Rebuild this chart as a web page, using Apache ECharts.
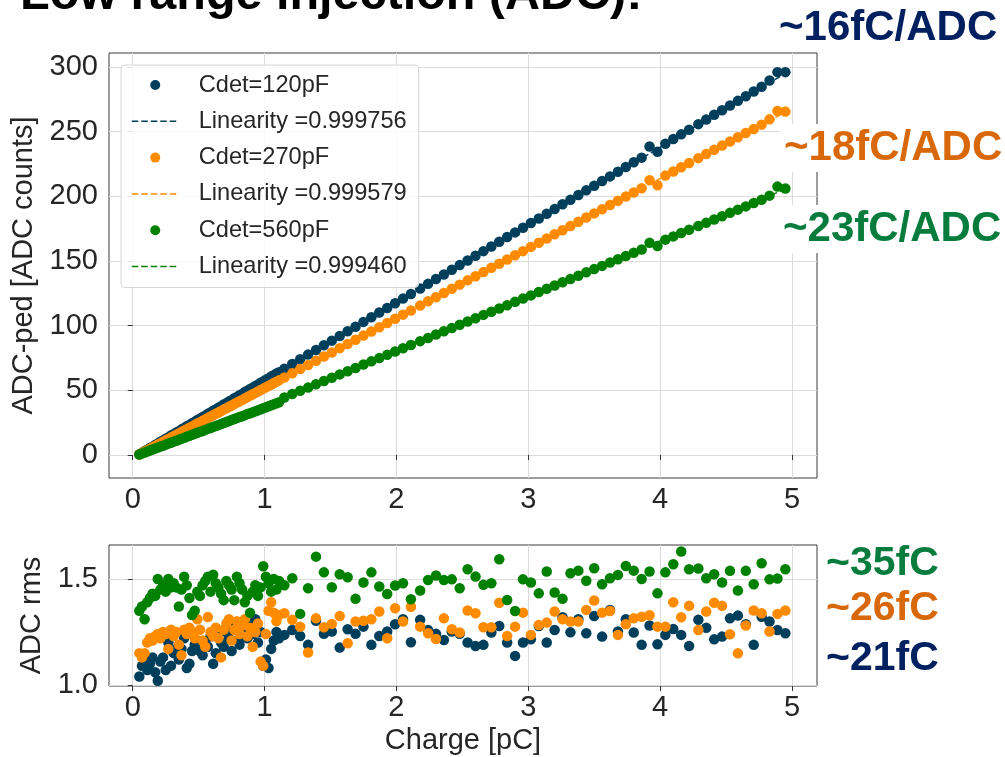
<!DOCTYPE html>
<html><head><meta charset="utf-8">
<script src="https://cdn.jsdelivr.net/npm/echarts@6/dist/echarts.min.js"></script>
<style>html,body{margin:0;padding:0;background:#fff}#c{width:1005px;height:757px}</style>
</head><body><div id="c"></div>
<script>
// Injected charge [pC] (shared by all series)
const charge = [0.05,0.07,0.09,0.11,0.13,0.15,0.17,0.19,0.21,0.23,0.25,0.27,0.29,0.31,0.33,0.35,0.37,0.39,0.41,0.43,0.45,0.47,0.49,0.51,0.53,0.55,0.57,0.59,0.61,0.63,0.65,0.67,0.69,0.71,0.73,0.75,0.77,0.79,0.81,0.83,0.85,0.87,0.89,0.91,0.93,0.95,0.97,0.99,1.01,1.03,1.05,1.07,1.09,1.11,
1.15,1.21,1.27,1.33,1.39,1.45,1.51,1.57,1.63,1.69,1.75,1.81,1.87,1.93,1.99,2.05,2.11,2.18,2.24,2.30,2.36,2.42,2.48,2.54,2.60,2.66,2.72,2.78,2.84,2.90,2.96,3.02,3.08,3.14,3.20,3.26,3.32,3.38,3.44,3.50,3.56,3.62,3.68,3.74,3.80,3.86,3.92,3.98,4.04,4.10,4.16,4.22,4.29,4.35,4.41,4.47,4.53,4.59,4.65,4.71,4.77,4.83,4.89,4.95];

// ADC-ped [ADC counts]
const adc120 = [0.6,1.6,3.0,4.0,5.4,6.4,7.8,8.8,10.2,11.2,12.6,13.6,15.0,16.0,17.4,18.4,19.8,20.8,22.2,23.2,24.6,25.6,27.0,28.0,29.4,30.4,31.8,32.8,34.2,35.2,36.6,37.6,39.0,40.0,41.4,42.4,43.8,44.8,46.2,47.2,48.6,49.6,51.0,52.0,53.4,54.4,55.8,56.8,58.2,59.2,60.6,61.6,63.0,64.0,
66.7,70.3,74.0,77.6,81.2,84.8,88.4,92.0,95.6,99.2,102.9,106.5,110.1,113.7,117.3,120.9,124.5,128.7,132.3,136.0,139.6,143.2,146.8,150.4,154.0,157.6,161.2,164.9,168.5,172.1,175.7,179.3,182.9,186.5,190.1,193.8,197.4,201.0,204.6,208.2,211.8,215.4,219.0,222.6,226.3,229.9,238.5,234.5,240.7,244.3,247.9,251.5,255.8,259.4,263.0,266.6,270.2,273.8,277.4,281.0,284.7,289.5,296.0,296.0];
const adc270 = [0.5,1.6,2.7,3.7,4.8,5.9,7.0,8.1,9.1,10.2,11.3,12.4,13.5,14.5,15.6,16.7,17.8,18.9,19.9,21.0,22.1,23.2,24.3,25.3,26.4,27.5,28.6,29.7,30.7,31.8,32.9,34.0,35.1,36.1,37.2,38.3,39.4,40.5,41.5,42.6,43.7,44.8,45.9,46.9,48.0,49.1,50.2,51.3,52.3,53.4,54.5,55.6,56.7,57.7,
59.9,63.1,66.4,69.6,72.9,76.1,79.3,82.6,85.8,89.1,92.3,95.5,98.8,102.0,105.3,108.5,111.7,115.5,118.8,122.0,125.2,128.5,131.7,135.0,138.2,141.4,144.7,147.9,151.2,154.4,157.6,160.9,164.1,167.4,170.6,173.8,177.1,180.3,183.6,186.8,190.0,193.3,196.5,199.8,203.0,206.2,212.5,208.5,216.0,219.2,222.4,225.7,229.5,232.7,235.9,239.2,242.4,245.7,248.9,252.1,255.4,259.5,266.0,265.5];
const adc560 = [0.4,1.2,1.9,2.7,3.4,4.2,5.0,5.7,6.5,7.2,8.0,8.8,9.5,10.3,11.0,11.8,12.6,13.3,14.1,14.8,15.6,16.4,17.1,17.9,18.6,19.4,20.2,20.9,21.7,22.4,23.2,24.0,24.7,25.5,26.2,27.0,27.8,28.5,29.3,30.0,30.8,31.6,32.3,33.1,33.8,34.6,35.4,36.1,36.9,37.6,38.4,39.2,39.9,40.7,
44.5,47.1,49.6,52.1,54.7,57.2,59.7,62.3,64.8,67.3,69.9,72.4,74.9,77.4,80.0,82.5,85.0,88.0,90.5,93.1,95.6,98.1,100.7,103.2,105.7,108.3,110.8,113.3,115.8,118.4,120.9,123.4,126.0,128.5,131.0,133.6,136.1,138.6,141.2,143.7,146.2,148.8,151.3,153.8,156.4,158.9,164.0,161.5,166.5,169.0,171.6,174.1,177.0,179.6,182.1,184.6,187.2,189.7,192.2,194.8,197.3,200.5,207.5,206.0];

// Linear fit end points
const fitX = [0.05, 4.95];
const fit120 = [0.2, 295.0];
const fit270 = [0.3, 265.0];
const fit560 = [-0.9, 205.5];

// ADC rms
const rms120 = [1.04,1.09,1.12,1.07,1.10,1.13,1.06,1.02,1.11,1.13,1.07,1.20,1.09,1.15,1.17,1.12,1.17,1.22,1.08,1.10,1.16,1.19,1.21,1.16,1.14,1.20,1.18,1.23,1.10,1.15,1.24,1.20,1.18,1.25,1.22,1.16,1.27,1.21,1.19,1.23,1.26,1.22,1.28,1.24,1.31,1.20,1.25,1.09,1.12,1.08,1.17,1.21,1.25,1.22,
1.236,1.259,1.231,1.189,1.303,1.241,1.252,1.176,1.263,1.241,1.275,1.189,1.231,1.252,1.286,1.310,1.201,1.307,1.259,1.241,
1.212,1.252,1.241,1.200,1.184,1.189,1.247,1.278,1.200,1.137,1.200,1.215,1.278,1.200,1.259,1.319,1.248,1.310,1.244,1.325,1.228,1.354,1.252,1.310,1.247,1.189,1.280,1.192,1.236,1.264,1.236,1.184,1.307,1.270,1.215,1.228,1.314,1.327,1.286,1.189,1.322,1.299,1.259,1.244];
const rms270 = [1.15,1.13,1.15,1.20,1.22,1.21,1.23,1.24,1.22,1.25,1.24,1.17,1.26,1.23,1.25,1.19,1.14,1.26,1.24,1.27,1.25,1.22,1.31,1.26,1.21,1.18,1.32,1.25,1.23,1.27,1.22,1.13,1.26,1.29,1.31,1.21,1.26,1.30,1.24,1.28,1.31,1.23,1.27,1.18,1.25,1.29,1.11,1.09,1.24,1.35,1.39,1.34,1.30,1.33,
1.338,1.307,1.275,1.153,1.314,1.272,1.288,1.325,1.197,1.299,1.303,1.310,1.346,1.220,1.362,1.299,1.369,1.275,1.244,1.217,
1.314,1.263,1.247,1.351,1.338,1.272,1.272,1.388,1.231,1.275,1.341,1.236,1.283,1.294,1.346,1.310,1.299,1.299,1.354,1.398,1.341,1.349,1.236,1.286,1.314,1.322,1.329,1.275,1.275,1.390,1.319,1.373,1.259,1.346,1.388,1.373,1.239,1.149,1.280,1.351,1.338,1.252,1.335,1.351];
const rms560 = [1.35,1.37,1.31,1.39,1.41,1.43,1.42,1.50,1.45,1.47,1.44,1.50,1.46,1.48,1.46,1.37,1.45,1.51,1.47,1.41,1.33,1.35,1.44,1.42,1.47,1.49,1.51,1.44,1.52,1.48,1.46,1.43,1.40,1.49,1.47,1.45,1.40,1.51,1.48,1.45,1.39,1.42,1.34,1.44,1.47,1.42,1.46,1.56,1.51,1.48,1.44,1.50,1.45,1.49,
1.470,1.503,1.335,1.456,1.605,1.531,1.461,1.522,1.508,1.406,1.483,1.531,1.464,1.429,1.469,1.480,1.404,1.445,1.495,1.516,
1.495,1.498,1.456,1.546,1.511,1.472,1.480,1.593,1.401,1.349,1.498,1.483,1.432,1.535,1.436,1.406,1.527,1.539,1.491,1.550,1.475,1.503,1.519,1.561,1.539,1.500,1.535,1.432,1.531,1.569,1.629,1.546,1.549,1.503,1.522,1.483,1.538,1.445,1.538,1.475,1.574,1.498,1.502,1.546];

// Tick labels
const xTicks = [0, 1, 2, 3, 4, 5];
const yTicksTop = [0, 50, 100, 150, 200, 250, 300];
const yTicksBottom = [1.0, 1.5];

const names = ['Cdet=120pF', 'Linearity =0.999756', 'Cdet=270pF', 'Linearity =0.999579', 'Cdet=560pF', 'Linearity =0.999460'];
const colors = ['#003f5c', '#ff8c00', '#008000'];

const FONT = '"Liberation Sans", Arial, sans-serif';
const TXT = '#262626';
const AX = 29;
const pairs = (xs, ys) => xs.map((x, i) => [x, ys[i]]);

function xAxisCfg(grid, withName) {
  return {
    type: 'value', gridIndex: grid, min: -0.18, max: 5.19,
    axisLine: {show: false},
    axisTick: {show: true, customValues: xTicks, length: 5, lineStyle: {color: '#333', width: 1}},
    axisLabel: {customValues: xTicks, fontSize: AX, color: TXT, fontFamily: FONT, margin: 7},
    splitLine: {show: true, lineStyle: {color: '#dcdcdc', width: 1}},
    name: withName ? 'Charge [pC]' : '', nameLocation: 'middle', nameGap: 40,
    nameTextStyle: {fontSize: AX, color: TXT, fontFamily: FONT}
  };
}
function yAxisCfg(grid, min, max, ticks, name, gap, fmt) {
  return {
    type: 'value', gridIndex: grid, min: min, max: max,
    axisLine: {show: false},
    axisTick: {show: true, customValues: ticks, length: 5, lineStyle: {color: '#333', width: 1}},
    axisLabel: {customValues: ticks, fontSize: AX, color: TXT, fontFamily: FONT, margin: 11, formatter: fmt},
    splitLine: {show: true, lineStyle: {color: '#dcdcdc', width: 1}},
    name: name, nameLocation: 'middle', nameGap: gap, nameRotate: 90,
    nameTextStyle: {fontSize: AX, color: TXT, fontFamily: FONT}
  };
}

const adcSets = [adc120, adc270, adc560];
const fitSets = [fit120, fit270, fit560];
const rmsSets = [rms120, rms270, rms560];
const series = [];
for (let k = 0; k < 3; k++) {
  series.push({type: 'scatter', name: names[2*k], xAxisIndex: 0, yAxisIndex: 0, symbolSize: 10.5,
    itemStyle: {color: colors[k], opacity: 1}, data: pairs(charge, adcSets[k]), z: 2 + k, animation: false});
  series.push({type: 'line', name: names[2*k+1], xAxisIndex: 0, yAxisIndex: 0, showSymbol: false, symbol: 'none',
    lineStyle: {color: colors[k], type: [6, 3], width: 1.5}, itemStyle: {color: colors[k]},
    data: pairs(fitX, fitSets[k]), z: 2 + k, animation: false});
}
for (let k = 0; k < 3; k++) {
  series.push({type: 'scatter', name: 'rms' + k, xAxisIndex: 1, yAxisIndex: 1, symbolSize: 10.5,
    itemStyle: {color: colors[k], opacity: 1}, data: pairs(charge, rmsSets[k]), z: 2 + k, animation: false});
}

function label(text, x, y, size, color, bg) {
  const st = {text: text, x: x, y: y, fontSize: size, fontWeight: 'bold', fontFamily: '"Liberation Sans", Arial, sans-serif',
    fill: color, verticalAlign: 'middle', align: 'left'};
  if (bg) { st.backgroundColor = '#ffffff'; st.padding = [3, 6, 3, 4]; }
  return {type: 'text', z: 100, style: st};
}

const noDot = {color: 'rgba(0,0,0,0)', borderWidth: 0};
const dashLeg = k => ({color: colors[k], type: [6.5, 3], width: 1.5});
const chart = echarts.init(document.getElementById('c'), null, {renderer: 'canvas'});
chart.setOption({
  animation: false,
  backgroundColor: '#ffffff',
  grid: [
    {left: 109, right: 188, top: 53, height: 425, show: true, borderColor: '#3a3a3a', borderWidth: 1, backgroundColor: 'transparent', outerBoundsMode: 'none'},
    {left: 109, right: 188, top: 545, height: 141, show: true, borderColor: '#3a3a3a', borderWidth: 1, backgroundColor: 'transparent', outerBoundsMode: 'none'}
  ],
  xAxis: [xAxisCfg(0, false), xAxisCfg(1, true)],
  yAxis: [
    yAxisCfg(0, -17.8, 310.8, yTicksTop, 'ADC-ped [ADC counts]', 64, v => String(v)),
    yAxisCfg(1, 0.995, 1.66, yTicksBottom, 'ADC rms', 57, v => Number(v).toFixed(1))
  ],
  legend: {
    data: [
      {name: names[0], icon: 'circle'}, {name: names[1], itemStyle: noDot, lineStyle: dashLeg(0)},
      {name: names[2], icon: 'circle'}, {name: names[3], itemStyle: noDot, lineStyle: dashLeg(1)},
      {name: names[4], icon: 'circle'}, {name: names[5], itemStyle: noDot, lineStyle: dashLeg(2)}
    ],
    orient: 'vertical', left: 121, top: 65,
    itemWidth: 47, itemHeight: 10, itemGap: 12.3,
    padding: [8, 12, 9, 10],
    backgroundColor: 'rgba(255,255,255,0.85)', borderColor: '#d6d6d6', borderWidth: 1, borderRadius: 4,
    textStyle: {fontSize: 23.6, color: TXT, fontFamily: FONT, padding: [0, 0, 0, 15]},
    selectedMode: false, z: 50
  },
  graphic: [
    label('Low range injection (ADC):', 20, -4, 48.5, '#000000', false),
    label('~16fC/ADC', 779, 28, 42, '#002060', false),
    label('~18fC/ADC', 780, 148, 42, '#d9680a', true),
    label('~23fC/ADC', 779, 229, 42, '#077c3c', true),
    label('~35fC', 826, 564, 41, '#077c3c', false),
    label('~26fC', 826, 609, 41, '#d9680a', false),
    label('~21fC', 826, 659, 41, '#002060', false)
  ],
  series: series
});
</script>
</body></html>
